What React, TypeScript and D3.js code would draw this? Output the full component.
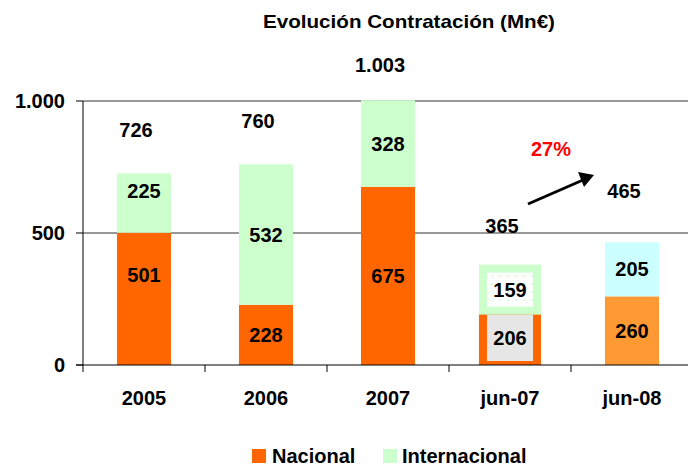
import * as d3 from 'd3';

const categories = ['2005', '2006', '2007', 'jun-07', 'jun-08'];
const nacional = [501, 228, 675, 206, 260];
const internacional = [225, 532, 328, 159, 205];
const yTicks = [0, 500, 1000];
const growthLabel = '27%';

// colours per bar (the half-year bars use another style)
const COLORS = {
  nacional: '#FF6600',
  internacional: '#CCFFCC',
  nacionalJun08: '#FF9933',
  internacionalJun08: '#CCFFFF',
  grayFill: '#E6E6E6',
};

// small hand nudges of the labels, in px (as placed in the original)
const TOTAL_NUDGE = [0, 0, 8, 0, -8];
const SEGMENT_NUDGE: Record<string, [number, number]> = { '2005': [-24, -12] };

const FONT = "'Liberation Sans', Arial, sans-serif";
const fmt = d3.formatLocale({ decimal: ',', thousands: '.', grouping: [3], currency: ['', '€'] }).format(',');

export default function App() {
  const W = 688;
  const H = 466;
  const left = 83;
  const bottom = 365;

  const x = d3.scaleBand<string>()
    .domain(categories)
    .range([left, 693])
    .paddingInner(0.557)
    .paddingOuter(0.557 / 2);

  const y = d3.scaleLinear().domain([0, 1000]).range([bottom, 101]);

  const step = x.step();
  const bw = x.bandwidth();
  const cx = (c: string) => x(c)! + bw / 2;

  return (
    <svg width={W} height={H} style={{ position: 'absolute', left: 0, top: 0, background: '#fff' }} fontFamily={FONT}>
      <defs>
        <pattern id="dots" width="8" height="8" patternUnits="userSpaceOnUse">
          <rect width="8" height="8" fill="#fff" />
          <circle cx="4" cy="4" r="1" fill="#CCFFCC" />
        </pattern>
        <clipPath id="plot">
          <rect x={left} y={0} width={W} height={bottom} />
        </clipPath>
      </defs>

      {/* title */}
      <text x={263} y={28} fontSize={19} fontWeight="bold" fill="#000" textLength={292} lengthAdjust="spacingAndGlyphs">Evolución Contratación (Mn€)</text>

      {/* gridlines */}
      {yTicks.filter(t => t > 0).map(t => (
        <line key={t} x1={left} x2={W} y1={y(t)} y2={y(t)} stroke="#333" strokeWidth={1} />
      ))}

      {/* bars */}
      <g clipPath="url(#plot)">
        {categories.map((c, i) => {
          const x0 = x(c)!;
          const y0 = y(nacional[i]);
          const y1 = y(nacional[i] + internacional[i]);
          if (c === 'jun-07') {
            return (
              <g key={c}>
                <rect x={x0} y={y0} width={bw} height={bottom - y0} fill={COLORS.grayFill} stroke={COLORS.nacional} strokeWidth={8} />
                <rect x={x0} y={y1} width={bw} height={y0 - y1} fill="url(#dots)" stroke={COLORS.internacional} strokeWidth={8} />
              </g>
            );
          }
          const isJun = c === 'jun-08';
          return (
            <g key={c}>
              <rect x={x0} y={y0} width={bw} height={bottom - y0} fill={isJun ? COLORS.nacionalJun08 : COLORS.nacional} />
              <rect x={x0} y={y1} width={bw} height={y0 - y1} fill={isJun ? COLORS.internacionalJun08 : COLORS.internacional} />
            </g>
          );
        })}
      </g>

      {/* axes */}
      <line x1={left} x2={left} y1={y(1000)} y2={bottom + 7} stroke="#000" />
      <line x1={left - 7} x2={W} y1={bottom} y2={bottom} stroke="#000" />
      {yTicks.map(t => (
        <g key={t}>
          <line x1={left - 7} x2={left} y1={y(t)} y2={y(t)} stroke="#000" />
          <text x={65} y={y(t) + 7} textAnchor="end" fontSize={20} fontWeight="bold">{fmt(t)}</text>
        </g>
      ))}
      {categories.map(c => (
        <g key={c}>
          <line x1={cx(c) + step / 2} x2={cx(c) + step / 2} y1={bottom} y2={bottom + 7} stroke="#000" />
          <text x={cx(c)} y={405} textAnchor="middle" fontSize={20} fontWeight="bold">{c}</text>
        </g>
      ))}

      {/* segment labels */}
      {categories.map((c, i) => {
        const y0 = y(nacional[i]);
        const y1 = y(nacional[i] + internacional[i]);
        const [n0, n1] = SEGMENT_NUDGE[c] || [0, 0];
        return (
          <g key={c} fontSize={20} fontWeight="bold" textAnchor="middle">
            <text x={cx(c)} y={(bottom + y0) / 2 + 7 + n0}>{nacional[i]}</text>
            <text x={cx(c)} y={(y0 + y1) / 2 + 7 + n1}>{internacional[i]}</text>
          </g>
        );
      })}

      {/* totals */}
      {categories.map((c, i) => (
        <text key={c} x={cx(c) - 8} y={y(nacional[i] + internacional[i]) - 36 + TOTAL_NUDGE[i]} textAnchor="middle" fontSize={20} fontWeight="bold">
          {fmt(nacional[i] + internacional[i])}
        </text>
      ))}

      {/* growth arrow */}
      <line x1={528} y1={204} x2={583} y2={180} stroke="#000" strokeWidth={3} />
      <polygon points="594,175 578,172 584,187" fill="#000" />
      <text x={551} y={156} textAnchor="middle" fontSize={20} fontWeight="bold" fill="#FF0000">{growthLabel}</text>

      {/* legend */}
      <rect x={252} y={449} width={14} height={14} fill={COLORS.nacional} />
      <text x={272} y={463} fontSize={20} fontWeight="bold">Nacional</text>
      <rect x={383} y={449} width={14} height={14} fill={COLORS.internacional} />
      <text x={402} y={463} fontSize={20} fontWeight="bold">Internacional</text>
    </svg>
  );
}
